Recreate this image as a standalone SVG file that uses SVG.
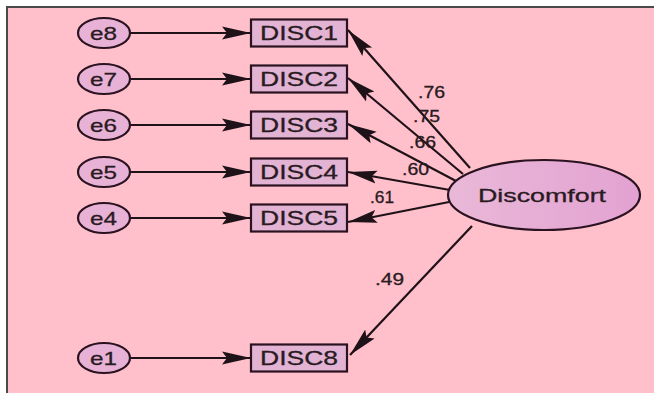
<svg xmlns="http://www.w3.org/2000/svg" width="654" height="393" viewBox="0 0 654 393">
  <style>
    .err { fill: #E8B2D6; stroke: #2B1220; stroke-width: 2.2; }
    .obs { fill: #E3B3D3; stroke: #2B1220; stroke-width: 2.2; }
    .lat { fill: url(#latFill); stroke: #2B1220; stroke-width: 2.2; }
    .lbl { font-family: "Liberation Sans", Arial, sans-serif; fill: #2A1A22; stroke: #2A1A22; stroke-width: 0.3; }
    .edge { stroke: #1E1218; stroke-width: 2.2; fill: none; marker-end: url(#head); }
  </style>
  <defs>
    <marker id="head" markerUnits="userSpaceOnUse" markerWidth="32" markerHeight="16" refX="29" refY="8" orient="auto">
      <path d="M0,1.5 L29,8 L0,14.5 L5,8 Z" fill="#1E1218"/>
    </marker>
    <linearGradient id="latFill" x1="0" y1="0" x2="1" y2="0">
      <stop offset="0" stop-color="#E9B8D8"/>
      <stop offset="1" stop-color="#E3A2D2"/>
    </linearGradient>
  </defs>

  <!-- canvas -->
  <rect x="0" y="0" width="654" height="393" fill="#FFFFFF"/>
  <rect x="7" y="7" width="647" height="386" fill="#FFC0CB"/>
  <path d="M7,393 V7 H654" fill="none" stroke="#4A4A4A" stroke-width="2"/>

  <!-- connectors -->
  <g id="connectors">
    <line class="edge" x1="130" y1="33" x2="251" y2="33"/>
    <line class="edge" x1="130" y1="79" x2="251" y2="79"/>
    <line class="edge" x1="130" y1="125" x2="251" y2="125"/>
    <line class="edge" x1="130" y1="172" x2="251" y2="172"/>
    <line class="edge" x1="130" y1="218" x2="251" y2="218"/>
    <line class="edge" x1="130" y1="358" x2="251" y2="358"/>

    <line class="edge" x1="470" y1="168" x2="348" y2="30"/>
    <line class="edge" x1="463" y1="174" x2="348" y2="78"/>
    <line class="edge" x1="456" y1="181" x2="348" y2="124"/>
    <line class="edge" x1="450" y1="190" x2="348" y2="172"/>
    <line class="edge" x1="449" y1="202" x2="348" y2="222"/>
    <line class="edge" x1="472" y1="226" x2="350" y2="355"/>

    <text class="lbl" x="418" y="98" font-size="16" textLength="27" lengthAdjust="spacingAndGlyphs">.76</text>
    <text class="lbl" x="413" y="122" font-size="16" textLength="27" lengthAdjust="spacingAndGlyphs">.75</text>
    <text class="lbl" x="409" y="148" font-size="16" textLength="27" lengthAdjust="spacingAndGlyphs">.66</text>
    <text class="lbl" x="402" y="175" font-size="16" textLength="27" lengthAdjust="spacingAndGlyphs">.60</text>
    <text class="lbl" x="370" y="203" font-size="16" textLength="24" lengthAdjust="spacingAndGlyphs">.61</text>
    <text class="lbl" x="375" y="285" font-size="16" textLength="29" lengthAdjust="spacingAndGlyphs">.49</text>
  </g>

  <!-- error terms -->
  <g id="e8"><ellipse class="err" cx="104" cy="33" rx="26" ry="15"/><text class="lbl" x="90" y="40" font-size="19" textLength="27" lengthAdjust="spacingAndGlyphs">e8</text></g>
  <g id="e7"><ellipse class="err" cx="104" cy="79" rx="26" ry="15"/><text class="lbl" x="90" y="86" font-size="19" textLength="27" lengthAdjust="spacingAndGlyphs">e7</text></g>
  <g id="e6"><ellipse class="err" cx="104" cy="125" rx="26" ry="15"/><text class="lbl" x="90" y="132" font-size="19" textLength="27" lengthAdjust="spacingAndGlyphs">e6</text></g>
  <g id="e5"><ellipse class="err" cx="104" cy="172" rx="26" ry="15"/><text class="lbl" x="90" y="179" font-size="19" textLength="27" lengthAdjust="spacingAndGlyphs">e5</text></g>
  <g id="e4"><ellipse class="err" cx="104" cy="218" rx="26" ry="15"/><text class="lbl" x="90" y="225" font-size="19" textLength="27" lengthAdjust="spacingAndGlyphs">e4</text></g>
  <g id="e1"><ellipse class="err" cx="104" cy="358" rx="26" ry="15"/><text class="lbl" x="90" y="365" font-size="19" textLength="27" lengthAdjust="spacingAndGlyphs">e1</text></g>

  <!-- observed indicators -->
  <g id="DISC1"><rect class="obs" x="251" y="19.5" width="96" height="27"/><text class="lbl" x="260" y="40" font-size="20" textLength="78" lengthAdjust="spacingAndGlyphs">DISC1</text></g>
  <g id="DISC2"><rect class="obs" x="251" y="65.5" width="96" height="27"/><text class="lbl" x="260" y="86" font-size="20" textLength="78" lengthAdjust="spacingAndGlyphs">DISC2</text></g>
  <g id="DISC3"><rect class="obs" x="251" y="111.5" width="96" height="27"/><text class="lbl" x="260" y="132" font-size="20" textLength="78" lengthAdjust="spacingAndGlyphs">DISC3</text></g>
  <g id="DISC4"><rect class="obs" x="251" y="158.5" width="96" height="27"/><text class="lbl" x="260" y="179" font-size="20" textLength="78" lengthAdjust="spacingAndGlyphs">DISC4</text></g>
  <g id="DISC5"><rect class="obs" x="251" y="204.5" width="96" height="27"/><text class="lbl" x="260" y="225" font-size="20" textLength="78" lengthAdjust="spacingAndGlyphs">DISC5</text></g>
  <g id="DISC8"><rect class="obs" x="251" y="344.5" width="96" height="27"/><text class="lbl" x="260" y="365" font-size="20" textLength="78" lengthAdjust="spacingAndGlyphs">DISC8</text></g>

  <!-- latent factor -->
  <g id="Discomfort"><ellipse class="lat" cx="544" cy="195" rx="96" ry="35"/><text class="lbl" x="478" y="202" font-size="18" textLength="128" lengthAdjust="spacingAndGlyphs">Discomfort</text></g>
</svg>
